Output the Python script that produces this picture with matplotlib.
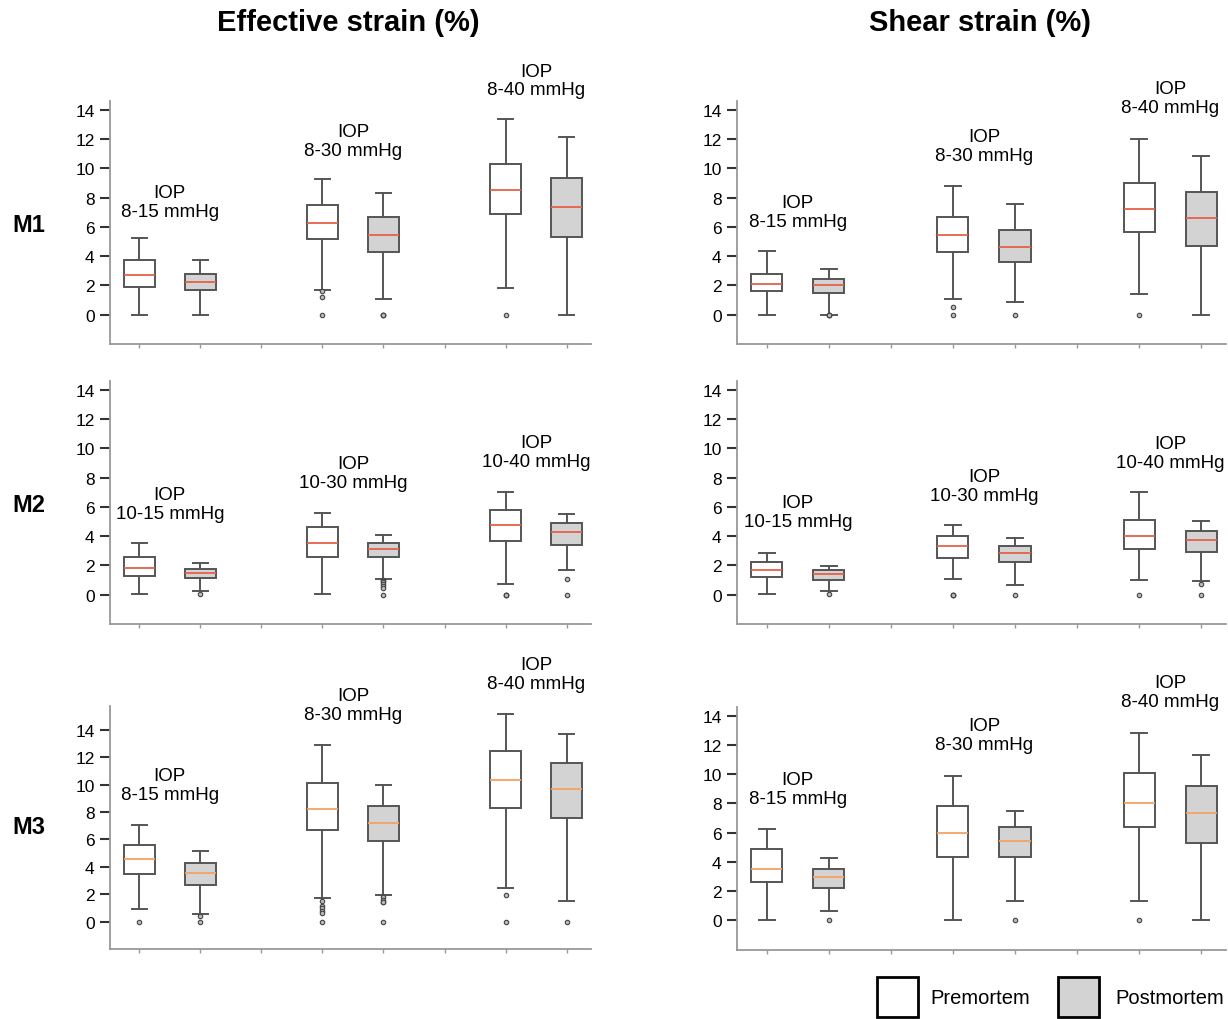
import matplotlib
matplotlib.use("Agg")
import matplotlib.pyplot as plt
from matplotlib.patches import Rectangle

plt.rcParams['font.family'] = ['Liberation Sans', 'DejaVu Sans']

# ---------------- data ----------------
rows = ["M1", "M2", "M3"]
iop_ranges = [["8-15", "8-30", "8-40"],
              ["10-15", "10-30", "10-40"],
              ["8-15", "8-30", "8-40"]]
positions = [1, 2, 4, 5, 7, 8]           # pre, post for 3 IOP ranges
groups = ["Premortem", "Postmortem"]

# Effective strain (%) : rows M1..M3, boxes pre/post x 3 ranges
eff_lo  = [[0.0, 0.0, 1.71, 1.05, 1.83, 0.0],
           [0.05, 0.23, 0.02, 1.09, 0.73, 1.66],
           [0.9, 0.56, 1.75, 1.92, 2.48, 1.48]]
eff_q1  = [[1.92, 1.67, 5.14, 4.27, 6.85, 5.32],
           [1.25, 1.14, 2.55, 2.55, 3.65, 3.42],
           [3.5, 2.7, 6.71, 5.86, 8.29, 7.56]]
eff_med = [[2.69, 2.24, 6.26, 5.46, 8.49, 7.33],
           [1.82, 1.48, 3.51, 3.12, 4.74, 4.26],
           [4.57, 3.52, 8.24, 7.24, 10.33, 9.7]]
eff_q3  = [[3.77, 2.81, 7.49, 6.67, 10.32, 9.32],
           [2.55, 1.76, 4.63, 3.56, 5.77, 4.88],
           [5.61, 4.28, 10.09, 8.48, 12.45, 11.62]]
eff_hi  = [[5.25, 3.72, 9.25, 8.29, 13.38, 12.15],
           [3.51, 2.14, 5.61, 4.1, 7.02, 5.54],
           [7.05, 5.18, 12.88, 9.99, 15.17, 13.69]]
eff_fliers = [[[], [], [1.6, 1.2, 0.0], [0.0, 0.0, 0.0], [0.0], []],
              [[], [0.02], [], [1.03, 0.93, 0.84, 0.73, 0.62, 0.46, 0.0], [0.0, 0.0, 0.0], [1.09, 0.0]],
              [[0.0], [0.39, 0.0], [1.53, 1.17, 0.97, 0.8, 0.63, 0.0], [1.77, 1.6, 1.45, 1.41, 0.0], [1.94, 0.0], [0.0]]]

# Shear strain (%)
sh_lo  = [[0.0, 0.0, 1.05, 0.84, 1.39, 0.0],
          [0.05, 0.27, 1.05, 0.68, 1.03, 0.91],
          [0.0, 0.64, 0.0, 1.28, 1.28, 0.0]]
sh_q1  = [[1.6, 1.46, 4.29, 3.58, 5.66, 4.7],
          [1.23, 1.03, 2.53, 2.21, 3.12, 2.94],
          [2.58, 2.22, 4.32, 4.29, 6.35, 5.25]]
sh_med = [[2.08, 2.01, 5.43, 4.63, 7.19, 6.58],
          [1.66, 1.39, 3.31, 2.87, 4.01, 3.72],
          [3.49, 2.92, 5.96, 5.44, 8.02, 7.31]]
sh_q3  = [[2.79, 2.44, 6.69, 5.8, 8.97, 8.4],
          [2.26, 1.66, 4.01, 3.35, 5.08, 4.35],
          [4.86, 3.49, 7.79, 6.37, 10.05, 9.16]]
sh_hi  = [[4.32, 3.1, 8.81, 7.53, 12.0, 10.84],
          [2.87, 1.94, 4.74, 3.9, 7.02, 5.04],
          [6.23, 4.27, 9.89, 7.44, 12.83, 11.33]]
sh_fliers = [[[], [0.0, 0.0, 0.0], [0.5, 0.0], [0.0], [0.0], []],
             [[], [0.02], [0.0, 0.0, 0.0], [0.0], [0.0], [0.73, 0.0]],
             [[], [0.0], [], [0.0], [0.0], []]]

# y position (data units) of the IOP annotations
eff_label_y = [[7.68, 11.85, 16.0], [6.2, 8.3, 9.75], [10.0, 15.8, 18.1]]
sh_label_y  = [[7.0, 11.5, 14.8], [5.63, 7.4, 9.7], [9.0, 12.7, 15.65]]

yticks = [0, 2, 4, 6, 8, 10, 12, 14]

# ---------------- figure ----------------
W, H = 1228, 1020
fig = plt.figure(figsize=(W / 100, H / 100), dpi=100)

def px_axes(x0, y0, x1, y1):
    return fig.add_axes([x0 / W, 1 - y1 / H, (x1 - x0) / W, (y1 - y0) / H])

col_x = [(110, 591), (737, 1226)]
row_y = [[(102, 345), (102, 345)],
         [(382, 625), (382, 625)],
         [(707, 950), (708, 951)]]
ylims = [[(-2, 14.6), (-2, 14.6)],
         [(-2, 14.6), (-2, 14.6)],
         [(-2, 15.75), (-2.05, 14.6)]]

box_edge = '#555555'
fill_pre = 'white'
fill_post = '#d3d3d3'
med_colors = ['#e8604a', '#e8604a', '#f4a261']

measures = [(eff_lo, eff_q1, eff_med, eff_q3, eff_hi, eff_fliers, eff_label_y),
            (sh_lo, sh_q1, sh_med, sh_q3, sh_hi, sh_fliers, sh_label_y)]

for r in range(3):
    for c in range(2):
        lo, q1, med, q3, hi, fl, laby = measures[c]
        x0, x1 = col_x[c]
        y0, y1 = row_y[r][c]
        ax = px_axes(x0, y0, x1, y1)
        stats = []
        for i in range(6):
            stats.append(dict(whislo=lo[r][i], q1=q1[r][i], med=med[r][i],
                              q3=q3[r][i], whishi=hi[r][i], fliers=fl[r][i]))
        bp = ax.bxp(stats, positions=positions, widths=0.5, patch_artist=True,
                    capwidths=0.25,
                    boxprops=dict(edgecolor=box_edge, linewidth=1.4),
                    whiskerprops=dict(color=box_edge, linewidth=1.4),
                    capprops=dict(color=box_edge, linewidth=1.4),
                    medianprops=dict(color=med_colors[r], linewidth=1.3),
                    flierprops=dict(marker='o', markersize=3.2,
                                    markerfacecolor='#bbbbbb',
                                    markeredgecolor='#444444',
                                    markeredgewidth=0.8))
        for i, patch in enumerate(bp['boxes']):
            patch.set_facecolor(fill_pre if i % 2 == 0 else fill_post)

        ax.set_xlim(0.52, 8.4)
        ax.set_ylim(*ylims[r][c])
        ax.set_yticks(yticks)
        ax.set_yticklabels([str(t) for t in yticks], fontsize=12.5)
        ax.set_xticks([1, 2, 3, 4, 5, 6, 7, 8])
        ax.set_xticklabels([])
        ax.tick_params(axis='y', direction='out', length=7, width=1.5,
                       color='#333333', pad=4)
        ax.tick_params(axis='x', direction='out', length=3, width=1,
                       color='#999999')
        for s in ['top', 'right']:
            ax.spines[s].set_visible(False)
        for s in ['left', 'bottom']:
            ax.spines[s].set_color('#999999')
            ax.spines[s].set_linewidth(1.3)
        ax.set_facecolor('none')

        for g in range(3):
            ax.text(1.5 + 3 * g, laby[r][g], "IOP\n" + iop_ranges[r][g] + " mmHg",
                    ha='center', va='center', fontsize=13.5, clip_on=False,
                    linespacing=1.15)

# column titles
fig.text(348 / W, 1 - 23 / H, "Effective strain (%)", ha='center', va='center',
         fontsize=21, fontweight='bold')
fig.text(980 / W, 1 - 23 / H, "Shear strain (%)", ha='center', va='center',
         fontsize=21, fontweight='bold')

# row labels
for lab, yc in zip(rows, [226, 505, 828]):
    fig.text(29 / W, 1 - yc / H, lab, ha='center', va='center',
             fontsize=17, fontweight='bold')

# legend
leg_fills = [fill_pre, fill_post]
leg_box_x = [877, 1058]
leg_txt_x = [930, 1115]
for lab, fc, bx, tx in zip(groups, leg_fills, leg_box_x, leg_txt_x):
    fig.patches.append(Rectangle((bx / W, 1 - 1018 / H), 41 / W, 40 / H,
                                 transform=fig.transFigure, facecolor=fc,
                                 edgecolor='black', linewidth=2))
    fig.text(tx / W, 1 - 999 / H, lab, ha='left', va='center', fontsize=14.5)

fig.savefig("out.png", dpi=100)
